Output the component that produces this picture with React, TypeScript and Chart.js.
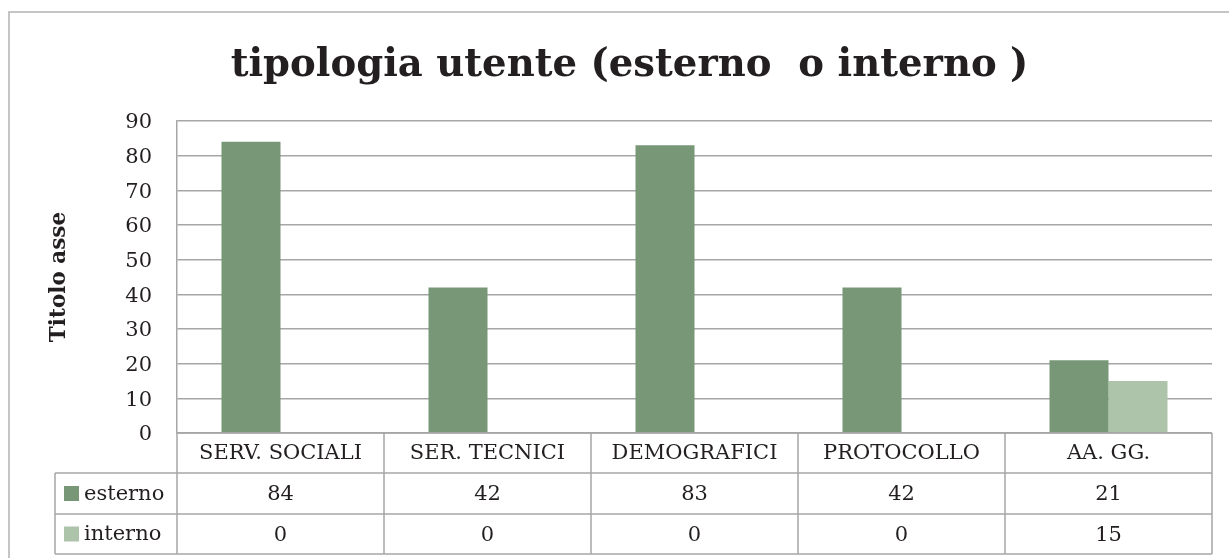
import React, { useEffect, useRef } from "react";
import { Chart, registerables } from "chart.js";

Chart.register(...registerables);

const categories = ["SERV. SOCIALI", "SER. TECNICI", "DEMOGRAFICI", "PROTOCOLLO", "AA. GG."];
const esterno = [84, 42, 83, 42, 21];
const interno = [0, 0, 0, 0, 15];
const seriesNames = ["esterno", "interno"];
const yTicks = [0, 10, 20, 30, 40, 50, 60, 70, 80, 90];

const FONT = "'DejaVu Serif', serif";
const LINE = "#a6a6a6";
const C_EST = "#779776";
const C_INT = "#adc4ab";
const TEXT = "#231f20";

const tablePlugin = {
  id: "dataTable",
  afterDraw(chart: any) {
    const ctx = chart.ctx;
    const area = chart.chartArea;
    const left = area.left;
    const right = area.right;
    const top = area.bottom;
    const rowH = [40, 41, 40];
    const r0 = top;
    const r1 = r0 + rowH[0];
    const r2 = r1 + rowH[1];
    const r3 = r2 + rowH[2];
    const legendLeft = 55;
    const n = chart.data.labels.length;
    const colW = (right - left) / n;
    ctx.save();
    ctx.strokeStyle = LINE;
    ctx.lineWidth = 1.5;
    ctx.beginPath();
    ctx.moveTo(left, r0); ctx.lineTo(right, r0);
    ctx.moveTo(legendLeft, r1); ctx.lineTo(right, r1);
    ctx.moveTo(legendLeft, r2); ctx.lineTo(right, r2);
    ctx.moveTo(legendLeft, r3); ctx.lineTo(right, r3);
    for (let i = 0; i <= n; i++) {
      const x = left + i * colW;
      ctx.moveTo(x, r0); ctx.lineTo(x, r3);
    }
    ctx.moveTo(legendLeft, r1); ctx.lineTo(legendLeft, r3);
    ctx.stroke();

    ctx.fillStyle = TEXT;
    ctx.font = `21px ${FONT}`;
    ctx.textAlign = "center";
    ctx.textBaseline = "middle";
    for (let i = 0; i < n; i++) {
      const cx = left + (i + 0.5) * colW;
      ctx.fillText(String(chart.data.labels[i]), cx, (r0 + r1) / 2 + 1);
    }
    const rows = [
      [r1, r2],
      [r2, r3],
    ];
    chart.data.datasets.forEach((ds: any, d: number) => {
      const [a, b] = rows[d];
      const cy = (a + b) / 2;
      for (let i = 0; i < n; i++) {
        const cx = left + (i + 0.5) * colW;
        ctx.fillStyle = TEXT;
        ctx.textAlign = "center";
        ctx.fillText(String(ds.data[i]), cx, cy + 1.5);
      }
      ctx.fillStyle = ds.backgroundColor;
      ctx.fillRect(64, cy - 7.5, 15, 15);
      ctx.fillStyle = TEXT;
      ctx.textAlign = "left";
      ctx.fillText(ds.label, 84, cy + 1);
    });
    ctx.restore();
  },
};

const borderPlugin = {
  id: "outerBorder",
  afterDraw(chart: any) {
    const ctx = chart.ctx;
    ctx.save();
    ctx.strokeStyle = "#b3b3b3";
    ctx.lineWidth = 1.5;
    ctx.beginPath();
    ctx.moveTo(9, chart.height + 5);
    ctx.lineTo(9, 12);
    ctx.lineTo(chart.width + 5, 12);
    ctx.stroke();
    ctx.restore();
  },
};

export default function App() {
  const ref = useRef<HTMLCanvasElement>(null);
  useEffect(() => {
    document.body.style.margin = "0";
    const chart = new Chart(ref.current!, {
      type: "bar",
      data: {
        labels: categories,
        datasets: [
          { label: seriesNames[0], data: esterno, backgroundColor: C_EST },
          { label: seriesNames[1], data: interno, backgroundColor: C_INT },
        ],
      },
      options: {
        animation: false,
        responsive: false,
        layout: { padding: { left: 47, right: 17, top: 0, bottom: 125 } },
        datasets: { bar: { categoryPercentage: 0.57, barPercentage: 1.0 } },
        plugins: {
          legend: { display: false },
          tooltip: { enabled: false },
          title: {
            display: true,
            text: "tipologia utente (esterno  o interno )",
            color: TEXT,
            font: { family: FONT, size: 38.6, weight: "bold", lineHeight: 1.2 },
            padding: { top: 43, bottom: 31.7 },
          },
        },
        scales: {
          x: { display: false },
          y: {
            min: 0,
            max: 90,
            afterBuildTicks: (s: any) => {
              s.ticks = yTicks.map((v) => ({ value: v }));
            },
            afterFit: (s: any) => {
              s.width = 130;
            },
            ticks: { color: TEXT, font: { family: FONT, size: 21 }, padding: 25, labelOffset: 2 },
            grid: { color: LINE, lineWidth: 1.5, drawTicks: false },
            border: { color: LINE, width: 1.5 },
            title: {
              display: true,
              text: "Titolo asse",
              color: TEXT,
              font: { family: FONT, size: 21.5, weight: "bold", lineHeight: 1.2 },
              padding: 0,
            },
          },
        },
      },
      plugins: [tablePlugin, borderPlugin],
    });
    return () => chart.destroy();
  }, []);
  return <canvas ref={ref} width={1229} height={558} style={{ display: "block" }} />;
}
